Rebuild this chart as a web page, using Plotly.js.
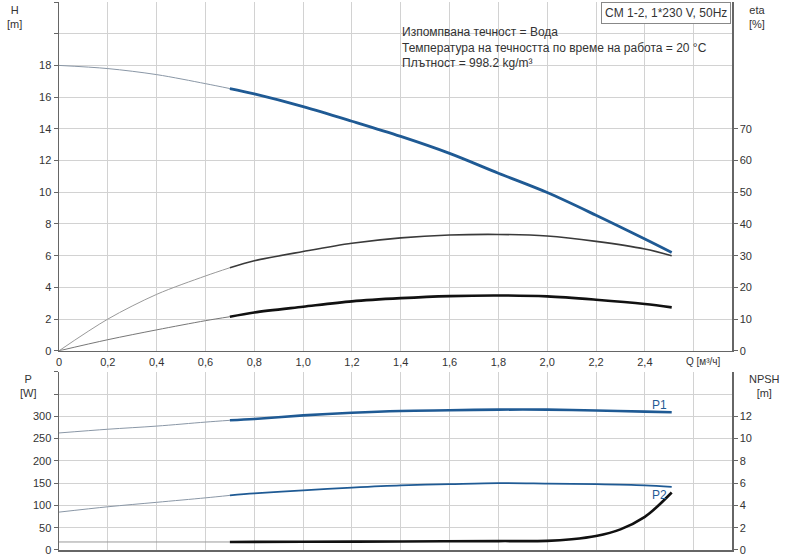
<!DOCTYPE html>
<html>
<head>
<meta charset="utf-8">
<script src="https://cdn.plot.ly/plotly-3.0.1.min.js"></script>
<style>html,body{margin:0;padding:0;background:#fff;}#chart{width:800px;height:560px;}</style>
</head>
<body>
<div id="chart"></div>
<script>
// Flow rate Q [m3/h]
var q = [0, 0.2, 0.4, 0.6, 0.7, 0.8, 1.0, 1.2, 1.4, 1.6, 1.8, 2.0, 2.2, 2.4, 2.51];
// Head H [m]
var head = [18, 17.8, 17.42, 16.85, 16.54, 16.2, 15.4, 14.48, 13.52, 12.45, 11.2, 9.98, 8.55, 7.05, 6.2];
// Efficiencies [%]
var etaUpper = [0, 10, 17.8, 23.6, 26.2, 28.4, 31.3, 33.9, 35.6, 36.5, 36.7, 36.2, 34.5, 32.1, 30];
var etaLower = [0, 3.5, 6.6, 9.5, 10.75, 12.1, 13.9, 15.6, 16.6, 17.25, 17.45, 17.15, 16.1, 14.75, 13.7];
// Power [W]
var p1 = [262.6, 271, 278, 287, 291, 294, 302, 308, 312, 313.5, 315, 315, 313, 310.5, 309];
var p2 = [85, 97, 107, 117, 122.5, 127, 134, 140, 145, 147.7, 150, 149, 147.7, 145, 141.7];
// NPSH [m]
var npshQ = [0, 0.7, 1.0, 1.4, 1.8, 2.0, 2.1, 2.2, 2.3, 2.4, 2.45, 2.51];
var npsh = [0.72, 0.72, 0.74, 0.77, 0.8, 0.82, 0.96, 1.25, 1.85, 2.98, 3.88, 5.16];
// Ticks
var qTicks = [0, 0.2, 0.4, 0.6, 0.8, 1.0, 1.2, 1.4, 1.6, 1.8, 2.0, 2.2, 2.4, 2.6];
var qTickText = ["0", "0,2", "0,4", "0,6", "0,8", "1,0", "1,2", "1,4", "1,6", "1,8", "2,0", "2,2", "2,4", ""];
var hTicks = [0, 2, 4, 6, 8, 10, 12, 14, 16, 18, 20, 22];
var hTickText = ["0", "2", "4", "6", "8", "10", "12", "14", "16", "18", "", ""];
var etaTicks = [0, 10, 20, 30, 40, 50, 60, 70];
var pTicks = [0, 50, 100, 150, 200, 250, 300, 350, 400];
var pTickText = ["0", "50", "100", "150", "200", "250", "300", "", ""];
var npshTicks = [0, 2, 4, 6, 8, 10, 12];
var splitQ = 0.7;

function part(xs, ys, thin) {
  var ox = [], oy = [];
  for (var i = 0; i < xs.length; i++) {
    if (thin ? xs[i] <= splitQ : xs[i] >= splitQ) { ox.push(xs[i]); oy.push(ys[i]); }
  }
  return {x: ox, y: oy};
}
function tr(xs, ys, thin, xa, ya, color, width) {
  var d = part(xs, ys, thin);
  return {x: d.x, y: d.y, xaxis: xa, yaxis: ya, mode: 'lines', type: 'scatter',
          line: {color: color, width: width, shape: 'spline', smoothing: 0.9},
          hoverinfo: 'skip', showlegend: false};
}
var blue = '#1f5a94', thinC = '#8a97a6';
var data = [
  tr(q, head, true, 'x', 'y', thinC, 1),
  tr(q, head, false, 'x', 'y', blue, 2.8),
  tr(q, etaUpper, true, 'x', 'y2', '#999999', 1),
  tr(q, etaUpper, false, 'x', 'y2', '#3a3a3a', 1.6),
  tr(q, etaLower, true, 'x', 'y2', '#777777', 1),
  tr(q, etaLower, false, 'x', 'y2', '#111111', 2.6),
  tr(q, p1, true, 'x2', 'y3', thinC, 1),
  tr(q, p1, false, 'x2', 'y3', blue, 2.6),
  tr(q, p2, true, 'x2', 'y3', thinC, 1),
  tr(q, p2, false, 'x2', 'y3', blue, 1.8),
  tr(npshQ, npsh, true, 'x2', 'y4', '#999999', 1),
  tr(npshQ, npsh, false, 'x2', 'y4', '#111111', 2.6)
];
var font = {family: 'Liberation Sans, Arial, sans-serif', size: 11, color: '#333'};
var gridC = '#d2d2d2', lineC = '#666';
function xAxis(extra) {
  return Object.assign({range: [0, 2.757], tickmode: 'array', tickvals: qTicks, ticktext: qTickText,
    showgrid: true, gridcolor: gridC, gridwidth: 1,
    showline: true, linecolor: lineC, linewidth: 1.5, ticks: '', zeroline: false, tickfont: font}, extra);
}
function yAxis(extra) {
  return Object.assign({tickmode: 'array', showline: true, linecolor: lineC, linewidth: 1.5, ticks: 'outside',
    ticklen: 4, tickcolor: lineC, zeroline: false, tickfont: font}, extra);
}
var layout = {
  width: 800, height: 560,
  margin: {l: 59, r: 68, t: 2, b: 10},
  paper_bgcolor: '#fff', plot_bgcolor: '#fff',
  font: font, showlegend: false,
  xaxis: xAxis({anchor: 'y', domain: [0, 1]}),
  xaxis2: xAxis({anchor: 'y3', domain: [0, 1], showticklabels: false}),
  yaxis: yAxis({domain: [0.3635, 1], range: [0, 22], tickvals: hTicks, ticktext: hTickText, showgrid: true, gridcolor: gridC, gridwidth: 1}),
  yaxis2: yAxis({overlaying: 'y', side: 'right', anchor: 'x', range: [0, 110], tickvals: etaTicks, showgrid: false}),
  yaxis3: yAxis({domain: [0, 0.3253], anchor: 'x2', range: [0, 400], tickvals: pTicks, ticktext: pTickText, showgrid: true, gridcolor: gridC, gridwidth: 1}),
  yaxis4: yAxis({overlaying: 'y3', side: 'right', anchor: 'x2', range: [0, 16], tickvals: npshTicks, showgrid: false}),
  annotations: [
    {xref: 'paper', yref: 'paper', x: -0.066, y: 1.0, xanchor: 'center', yanchor: 'top', showarrow: false,
      text: 'H<br>[m]', font: font, align: 'center'},
    {xref: 'paper', yref: 'paper', x: 1.037, y: 1.0, xanchor: 'center', yanchor: 'top', showarrow: false,
      text: 'eta<br>[%]', font: font, align: 'center'},
    {xref: 'paper', yref: 'paper', x: -0.045, y: 0.327, xanchor: 'center', yanchor: 'top', showarrow: false,
      text: 'P<br>[W]', font: font, align: 'center'},
    {xref: 'paper', yref: 'paper', x: 1.049, y: 0.327, xanchor: 'center', yanchor: 'top', showarrow: false,
      text: 'NPSH<br>[m]', font: font, align: 'center'},
    {xref: 'paper', yref: 'paper', x: 0.958, y: 0.358, xanchor: 'center', yanchor: 'top', showarrow: false,
      text: 'Q [м³/ч]', font: {family: font.family, size: 10, color: '#333'}},
    {xref: 'paper', yref: 'paper', x: 0.9985, y: 1.0, xanchor: 'right', yanchor: 'top', showarrow: false,
      text: 'CM 1-2, 1*230 V, 50Hz', font: {family: font.family, size: 12, color: '#333'},
      bordercolor: '#888', borderwidth: 1, borderpad: 3, bgcolor: '#fff'},
    {xref: 'paper', yref: 'paper', x: 0.507, y: 0.962, xanchor: 'left', yanchor: 'top', showarrow: false, align: 'left',
      text: 'Изпомпвана течност = Вода<br>Температура на течността по време на работа = 20 °C<br>Плътност = 998.2 kg/m³',
      font: {family: font.family, size: 12, color: '#333'}},
    {xref: 'x2', yref: 'y3', x: 2.46, y: 326, xanchor: 'center', yanchor: 'middle', showarrow: false,
      text: 'P1', font: {family: font.family, size: 12, color: blue}},
    {xref: 'x2', yref: 'y3', x: 2.46, y: 123, xanchor: 'center', yanchor: 'middle', showarrow: false,
      text: 'P2', font: {family: font.family, size: 12, color: blue}}
  ]
};
Plotly.newPlot('chart', data, layout, {staticPlot: true, displayModeBar: false});
</script>
</body>
</html>
